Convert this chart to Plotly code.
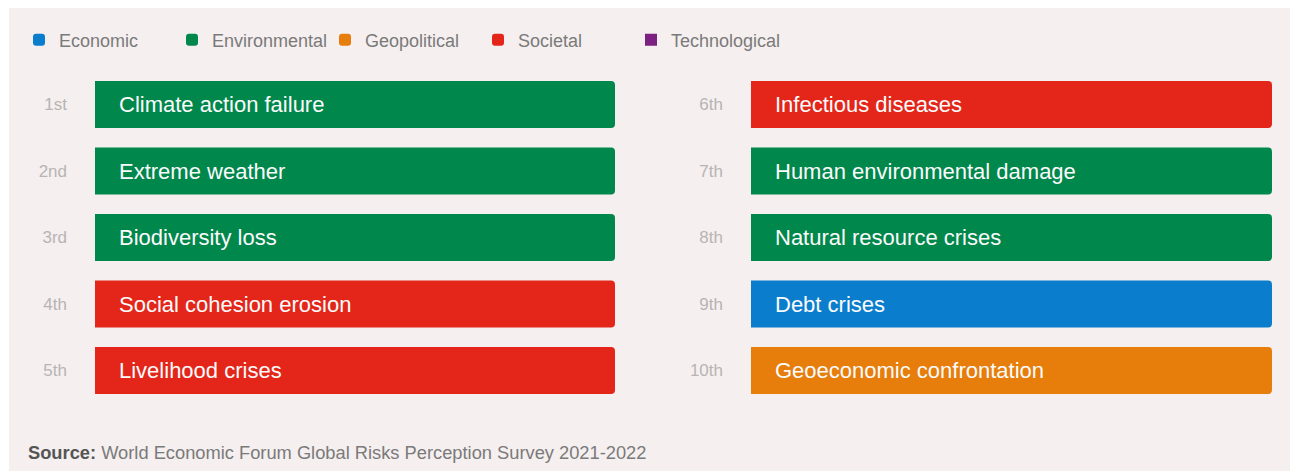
import plotly.graph_objects as go

# ---- data ----
categories = ["Economic", "Environmental", "Geopolitical", "Societal", "Technological"]
category_colors = ["#0a7ecd", "#00874b", "#e77d0b", "#e4261a", "#7c2181"]

ranks = ["1st", "2nd", "3rd", "4th", "5th", "6th", "7th", "8th", "9th", "10th"]
risks = [
    "Climate action failure",
    "Extreme weather",
    "Biodiversity loss",
    "Social cohesion erosion",
    "Livelihood crises",
    "Infectious diseases",
    "Human environmental damage",
    "Natural resource crises",
    "Debt crises",
    "Geoeconomic confrontation",
]
risk_category = [
    "Environmental", "Environmental", "Environmental", "Societal", "Societal",
    "Societal", "Environmental", "Environmental", "Economic", "Geopolitical",
]
bar_length = [1, 1, 1, 1, 1, 1, 1, 1, 1, 1]

source_label = "Source:"
source_text = "World Economic Forum Global Risks Perception Survey 2021-2022"

# ---- layout constants ----
W, H = 1300, 471
PANEL = "#f5efef"
FONT = "Liberation Sans, Arial, sans-serif"
left_ranks = ranks[:5]
right_ranks = ranks[5:]

fig = go.Figure()

for k, (cat, col) in enumerate(zip(categories, category_colors)):
    legend_done = False
    for side, (xa, ya) in enumerate([("x", "y"), ("x2", "y2")]):
        idx = [i for i in range(len(ranks))
               if risk_category[i] == cat and ((i < 5) if side == 0 else (i >= 5))]
        if not idx:
            continue
        fig.add_trace(go.Bar(
            x=[bar_length[i] for i in idx],
            y=[ranks[i] for i in idx],
            orientation="h",
            name=cat,
            legendgroup=cat,
            legendrank=k + 1,
            showlegend=not legend_done,
            marker=dict(color=col, cornerradius=4, line=dict(width=0)),
            xaxis=xa, yaxis=ya,
            hoverinfo="skip",
        ))
        legend_done = True
    if not legend_done:
        # category with no risk in the top 10: zero-length entry, legend only
        fig.add_trace(go.Bar(
            x=[0], y=[ranks[0]], orientation="h",
            name=cat, legendgroup=cat, legendrank=k + 1, showlegend=True,
            marker=dict(color=col, line=dict(width=0)),
            xaxis="x", yaxis="y", hoverinfo="skip",
        ))

annotations = []
for i, (rk, txt) in enumerate(zip(ranks, risks)):
    side = 0 if i < 5 else 1
    annotations.append(dict(
        x=0, y=rk,
        xref="x" if side == 0 else "x2",
        yref="y" if side == 0 else "y2",
        text=txt, showarrow=False,
        xanchor="left", yanchor="middle", xshift=22,
        font=dict(family=FONT, size=22, color="#fbfbfb"),
    ))

annotations.append(dict(
    x=26 / W, y=1 - 452 / H, xref="paper", yref="paper",
    xanchor="left", yanchor="middle", showarrow=False,
    text=f"<b><span style='color:#555555'>{source_label}</span></b> {source_text}",
    font=dict(family=FONT, size=18.3, color="#7a7a7a"),
))

ydom = [1 - 403.75 / H, 1 - 71.25 / H]
yaxis_common = dict(
    type="category", autorange="reversed", domain=ydom,
    showgrid=False, zeroline=False, showline=False, ticks="",
    ticklabelstandoff=27,
    tickfont=dict(family=FONT, size=17, color="#b8b4b4"),
    fixedrange=True,
)
xaxis_common = dict(range=[0, 1], visible=False, showgrid=False, zeroline=False, fixedrange=True)

fig.update_layout(
    width=W, height=H,
    margin=dict(l=0, r=0, t=0, b=0),
    paper_bgcolor="#ffffff",
    plot_bgcolor="rgba(0,0,0,0)",
    barmode="overlay",
    bargap=0.293,
    xaxis=dict(domain=[95 / W, 615 / W], anchor="y", **xaxis_common),
    xaxis2=dict(domain=[751 / W, 1272 / W], anchor="y2", **xaxis_common),
    yaxis=dict(anchor="x", categoryorder="array", categoryarray=left_ranks, **yaxis_common),
    yaxis2=dict(anchor="x2", categoryorder="array", categoryarray=right_ranks, **yaxis_common),
    legend=dict(
        orientation="h", x=19 / W, xanchor="left", y=1 - 40 / H, yanchor="middle",
        font=dict(family=FONT, size=18, color="#7a7a7a"),
        bgcolor="rgba(0,0,0,0)", traceorder="normal",
        entrywidth=108, entrywidthmode="pixels",
    ),
    shapes=[dict(
        type="rect", xref="paper", yref="paper",
        x0=9 / W, x1=1290 / W, y0=0, y1=1 - 8 / H,
        fillcolor=PANEL, line=dict(width=0), layer="below",
    )],
    annotations=annotations,
    showlegend=True,
)

fig.write_html("out.html")
